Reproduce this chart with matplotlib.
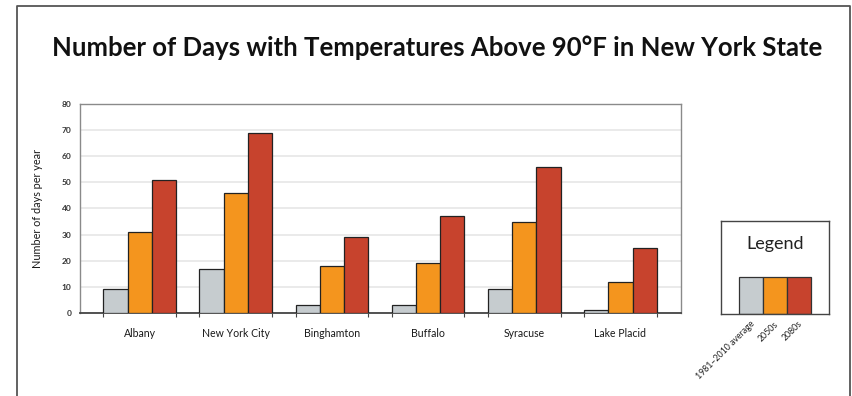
import numpy as np
import matplotlib
matplotlib.use("Agg")
from matplotlib import pyplot as plt
from matplotlib.lines import Line2D

cities = ["Albany", "New York City", "Binghamton", "Buffalo", "Syracuse", "Lake Placid"]
baseline = [9, 17, 3, 3, 9, 1]        # 1981-2010 average
mid_century = [31, 46, 18, 19, 35, 12]  # 2050s
late_century = [51, 69, 29, 37, 56, 25]  # 2080s
periods = ["1981\u20132010 average", "2050s", "2080s"]
colors = ["#c6cccf", "#f4951e", "#c7432d"]

plt.rcParams["font.family"] = ["Lato", "DejaVu Sans"]

fig = plt.figure(figsize=(8.52, 3.96), dpi=100)

# outer frame (open at the bottom)
frame = Line2D([0.020, 0.020, 0.9977, 0.9977], [0.0, 0.9836, 0.9836, 0.0],
               transform=fig.transFigure, color="#555555", lw=1.3)
fig.add_artist(frame)

fig.text(0.513, 0.879, "Number of Days with Temperatures Above 90\u00b0F in New York State",
         ha="center", va="center", fontsize=18.5, fontweight="bold", color="#111111")

ax = fig.add_axes([0.0939, 0.2096, 0.7054, 0.5278])
x = np.arange(len(cities))
w = 0.252
for offset, vals, c in zip([-w, 0, w], [baseline, mid_century, late_century], colors):
    ax.bar(x + offset, vals, width=w, color=c, edgecolor="#222222", linewidth=0.9, zorder=3)

ax.set_xlim(-0.62, len(cities) - 1 + 0.63)
ax.set_ylim(0, 80)
ax.set_yticks(range(0, 81, 10))
ax.yaxis.grid(True, color="#e8e8e8", lw=1.3, zorder=0)
ax.set_axisbelow(True)
ax.tick_params(axis="y", length=0, labelsize=6, labelcolor="#333333", pad=6)
for lbl in ax.get_yticklabels():
    lbl.set_fontweight("bold")

ax.set_xticks(x)
ax.set_xticklabels(cities, fontsize=7.6, color="#1a1a1a")
ax.tick_params(axis="x", which="major", length=0, pad=11)
ax.set_xticks(np.concatenate([x - 1.5 * w, x + 1.5 * w]), minor=True)
ax.tick_params(axis="x", which="minor", length=3, width=0.8, color="#444444", direction="out")

for side in ["top", "left", "right"]:
    ax.spines[side].set_color("#8a8a8a")
    ax.spines[side].set_linewidth(1.0)
ax.spines["bottom"].set_color("#444444")
ax.spines["bottom"].set_linewidth(1.3)

fig.text(0.0446, 0.4735, "Number of days per year", rotation=90,
         ha="center", va="center", fontsize=7.8, color="#1a1a1a")

# legend panel drawn as its own small bar axes
lax = fig.add_axes([0.8466, 0.2063, 0.1261, 0.2364])
lx = np.arange(len(periods))
lax.bar(lx, [1, 1, 1], width=1.0, color=colors, edgecolor="#333333", linewidth=0.9)
lax.set_xlim(-1.24, 3.25)
lax.set_ylim(0, 2.49)
lax.set_xticks([])
lax.set_yticks([])
for s in lax.spines.values():
    s.set_color("#444444")
    s.set_linewidth(1.0)
lax.text(0.5, 0.748, "Legend", transform=lax.transAxes, ha="center", va="center",
         fontsize=13, color="#222222")
for xi, name in zip(lx, periods):
    lax.text(xi - 0.05, -0.14, name, rotation=45, rotation_mode="anchor",
             ha="right", va="top", fontsize=6.3, color="#222222")

fig.savefig("out.png", dpi=100)
